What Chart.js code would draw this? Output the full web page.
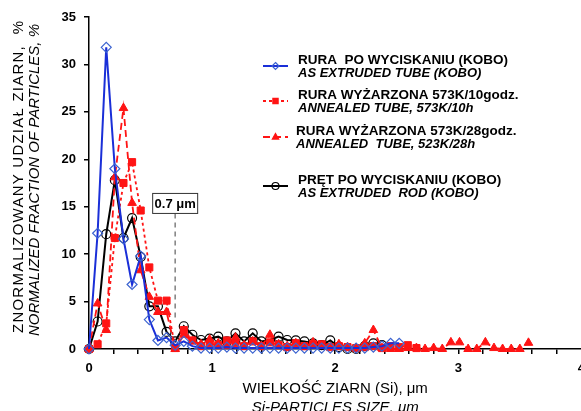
<!DOCTYPE html>
<html>
<head>
<meta charset="utf-8">
<script src="https://cdn.jsdelivr.net/npm/chart.js@4.4.1/dist/chart.umd.min.js"></script>
<style>
    html, body { margin: 0; padding: 0; background: #fff; overflow: hidden; }
    #frame { width: 581px; height: 411px; overflow: hidden; }
</style>
</head>
<body>
<div id="frame"><canvas id="sizeChart" width="592" height="411"></canvas></div>
<script>
// Si particle size classes, um
const particleSizes = [0, 0.07, 0.14, 0.21, 0.28, 0.35, 0.42, 0.49, 0.56, 0.63, 0.7, 0.77, 0.84, 0.91, 0.98,
    1.05, 1.12, 1.19, 1.26, 1.33, 1.4, 1.47, 1.54, 1.61, 1.68, 1.75, 1.82, 1.89, 1.96, 2.03, 2.1, 2.17,
    2.24, 2.31, 2.38, 2.45, 2.52, 2.59, 2.66, 2.73, 2.8, 2.87, 2.94, 3.01, 3.08, 3.15, 3.22, 3.29, 3.36,
    3.43, 3.5, 3.57];

// normalized fraction, %
const tubeExtruded = [0, 12.2, 31.8, 19.0, 11.6, 6.8, 9.8, 3.1, 0.9, 1.2, 0.4, 0.8, 0.3, 0.1, 0.1, 0.1,
    0.2, 0.1, 0.1, 0.1, 0.1, 0.1, 0.1, 0.1, 0.1, 0.1, 0.1, 0.1, 0.1, 0.1, 0.1, 0.1, 0.1, 0.2, 0.3, 0.6, 0.6];
const tubeAnnealed10h = [0, 0.5, 2.7, 11.7, 17.5, 19.7, 14.6, 8.6, 5.1, 5.1, 0.1, 2.0, 0.9, 0.3, 0.6, 0.4,
    0.9, 0.6, 0.3, 0.8, 0.3, 0.7, 0.4, 0.2, 0.6, 0.3, 0.5, 0.5, 0.2, 0.3, 0.2, 0.1, 0.2, 0.3, 0.1, 0.3,
    0.2, 0.4, 0.1];
const tubeAnnealed28h = [0, 4.8, 2.0, 18.1, 25.4, 15.4, 8.3, 5.5, 3.9, 3.9, 0, 1.5, 0.8, 0.5, 1.0, 0.6,
    0.3, 1.2, 0.4, 0.8, 0.3, 1.5, 0.5, 0.3, 0.6, 0.2, 0.7, 0.3, 0.2, 0.5, 0.2, 0.1, 0.6, 2.0, 0.1, 0, 0,
    0.1, 0.1, 0, 0.1, 0, 0.7, 0.7, 0, 0, 0.7, 0.1, 0, 0, 0, 0.65];
const rodExtruded = [0, 2.9, 12.1, 17.8, 11.7, 13.8, 9.7, 4.5, 4.5, 1.8, 0.8, 2.4, 1.5, 0.95, 1.1, 1.3,
    0.8, 1.65, 0.8, 1.65, 0.8, 0.95, 1.3, 0.95, 0.9, 0.8, 0.6, 0.4, 0.9, 0.2, 0, 0, 0.3, 0.6, 0.4];

const seriesLabels = [
    ['RURA  PO WYCISKANIU (KOBO)', 'AS EXTRUDED TUBE (KOBO)'],
    ['RURA WYŻARZONA 573K/10godz.', 'ANNEALED TUBE, 573K/10h'],
    ['RURA WYŻARZONA 573K/28godz.', 'ANNEALED  TUBE, 523K/28h'],
    ['PRĘT PO WYCISKANIU (KOBO)', 'AS EXTRUDED  ROD (KOBO)']
];
const xTitle = ['WIELKOŚĆ ZIARN (Si), μm', 'Si-PARTICLES SIZE, μm'];
const yTitle = ['ZNORMALIZOWANY UDZIAŁ ZIARN,', 'NORMALIZED FRACTION OF PARTICLES, %'];
const cutoffSize = 0.7;

const toPoints = vals => vals.map((v, i) => ({ x: particleSizes[i], y: v }));

const FONT = 'Arial, "Liberation Sans", sans-serif';

function drawMarker(ctx, style, x, y, r) {
    ctx.beginPath();
    if (style === 'rectRot') {
        ctx.moveTo(x, y - r); ctx.lineTo(x + r, y); ctx.lineTo(x, y + r); ctx.lineTo(x - r, y);
        ctx.closePath();
    } else if (style === 'rect') {
        const s = r * 0.75;
        ctx.rect(x - s, y - s, 2 * s, 2 * s);
    } else if (style === 'triangle') {
        ctx.moveTo(x, y - r); ctx.lineTo(x + r * 0.9, y + r * 0.6); ctx.lineTo(x - r * 0.9, y + r * 0.6);
        ctx.closePath();
    } else {
        ctx.arc(x, y, r, 0, Math.PI * 2);
    }
}

// titles, legend and the 0.7 um marker
const chartTexts = {
    id: 'chartTexts',
    afterDraw(chart) {
        const { ctx, chartArea, scales } = chart;
        ctx.save();
        ctx.fillStyle = '#000';

        // x title
        ctx.textAlign = 'center';
        ctx.textBaseline = 'middle';
        const cx = (chartArea.left + chartArea.right) / 2;
        ctx.font = '15px ' + FONT;
        ctx.fillText(xTitle[0], cx, 389);
        ctx.font = 'italic 15px ' + FONT;
        ctx.fillText(xTitle[1], cx, 408);

        // y title (first line is spread out in the original)
        ctx.save();
        ctx.translate(19, 180);
        ctx.rotate(-Math.PI / 2);
        ctx.font = '15px ' + FONT;
        ctx.textAlign = 'left';
        const w1 = ctx.measureText(yTitle[0]).width;
        ctx.letterSpacing = Math.max(0, (288 - w1) / yTitle[0].length) + 'px';
        ctx.fillText(yTitle[0], -153, 0);
        ctx.letterSpacing = '0px';
        ctx.textAlign = 'right';
        ctx.fillText('%', 159, 0);
        ctx.font = 'italic 15px ' + FONT;
        ctx.textAlign = 'center';
        ctx.fillText(yTitle[1], 0, 16);
        ctx.restore();

        // legend
        const rows = [66, 101, 137, 186];
        const textX = [298, 298, 296, 298];
        chart.data.datasets.forEach((ds, i) => {
            const ly = rows[i];
            ctx.save();
            ctx.strokeStyle = ds.borderColor;
            ctx.lineWidth = ds.borderWidth;
            ctx.setLineDash(ds.borderDash || []);
            ctx.beginPath();
            ctx.moveTo(263, ly);
            ctx.lineTo(288, ly);
            ctx.stroke();
            ctx.setLineDash([]);
            drawMarker(ctx, ds.pointStyle, 275.5, ly, 3.5);
            ctx.fillStyle = ds.pointBackgroundColor;
            ctx.fill();
            ctx.strokeStyle = ds.pointBorderColor;
            ctx.lineWidth = 1.2;
            ctx.stroke();
            ctx.restore();

            ctx.textAlign = 'left';
            ctx.textBaseline = 'middle';
            ctx.font = 'bold 13.5px ' + FONT;
            ctx.fillText(seriesLabels[i][0], textX[i], ly - 6);
            ctx.font = 'italic bold 13px ' + FONT;
            ctx.fillText(seriesLabels[i][1], textX[i], ly + 7);
        });

        // cut-off marker
        const px = scales.x.getPixelForValue(cutoffSize);
        const boxTop = scales.y.getPixelForValue(16.4);
        ctx.strokeStyle = '#808080';
        ctx.lineWidth = 1.5;
        ctx.setLineDash([5, 4]);
        ctx.beginPath();
        ctx.moveTo(px, boxTop + 20);
        ctx.lineTo(px, scales.y.getPixelForValue(3.2));
        ctx.stroke();
        ctx.setLineDash([]);
        ctx.fillStyle = '#fff';
        ctx.fillRect(px - 22.5, boxTop, 45, 20);
        ctx.strokeStyle = '#333';
        ctx.lineWidth = 1;
        ctx.strokeRect(px - 22.5, boxTop, 45, 20);
        ctx.fillStyle = '#000';
        ctx.font = 'bold 13px ' + FONT;
        ctx.textAlign = 'center';
        ctx.fillText('0.7 μm', px, boxTop + 10.5);
        ctx.restore();
    }
};

const ctx = document.getElementById('sizeChart').getContext('2d');

new Chart(ctx, {
    type: 'line',
    data: {
        datasets: [{
            label: seriesLabels[0].join(' '),
            data: toPoints(tubeExtruded),
            borderColor: '#1a2fd8',
            borderWidth: 2,
            pointStyle: 'rectRot',
            pointRadius: 5,
            pointBorderColor: '#3b63d0',
            pointBackgroundColor: 'rgba(255,255,255,0)',
            pointBorderWidth: 1.2
        }, {
            label: seriesLabels[1].join(' '),
            data: toPoints(tubeAnnealed10h),
            borderColor: '#ff1414',
            borderWidth: 1.8,
            borderDash: [3, 3],
            pointStyle: 'rect',
            pointRadius: 5,
            pointBorderColor: '#ff1414',
            pointBackgroundColor: '#ff1414',
            pointBorderWidth: 1
        }, {
            label: seriesLabels[2].join(' '),
            data: toPoints(tubeAnnealed28h),
            borderColor: '#ff1414',
            borderWidth: 1.8,
            borderDash: [7, 4],
            pointStyle: 'triangle',
            pointRadius: 5,
            pointBorderColor: '#ff1414',
            pointBackgroundColor: '#ff1414',
            pointBorderWidth: 1
        }, {
            label: seriesLabels[3].join(' '),
            data: toPoints(rodExtruded),
            borderColor: '#000',
            borderWidth: 2,
            pointStyle: 'circle',
            pointRadius: 4.5,
            pointBorderColor: '#000',
            pointBackgroundColor: 'rgba(255,255,255,0)',
            pointBorderWidth: 1.2
        }]
    },
    options: {
        responsive: false,
        animation: false,
        devicePixelRatio: 1,
        clip: false,
        layout: { padding: { left: 0, top: 17, right: 0, bottom: 0 } },
        plugins: {
            legend: { display: false },
            tooltip: { enabled: false }
        },
        scales: {
            x: {
                type: 'linear',
                min: 0,
                max: 4,
                border: { color: '#000', width: 1.5 },
                grid: { drawOnChartArea: false, tickLength: 5, color: '#000', lineWidth: 1.5 },
                ticks: {
                    stepSize: 0.2,
                    autoSkip: false,
                    maxRotation: 0,
                    padding: 7,
                    color: '#000',
                    font: { family: FONT, size: 13, weight: 'bold' },
                    callback: v => Math.abs(v - Math.round(v)) < 1e-6 ? String(Math.round(v)) : ''
                },
                afterFit: s => { s.height = 62; }
            },
            y: {
                min: 0,
                max: 35,
                border: { color: '#000', width: 1.5 },
                grid: { drawOnChartArea: false, tickLength: 5, color: '#000', lineWidth: 1.5 },
                ticks: {
                    stepSize: 5,
                    padding: 8,
                    color: '#000',
                    font: { family: FONT, size: 13, weight: 'bold' }
                },
                afterFit: s => { s.width = 89; s.paddingTop = 0; s.paddingBottom = 0; }
            }
        }
    },
    plugins: [chartTexts]
});
</script>
</body>
</html>
